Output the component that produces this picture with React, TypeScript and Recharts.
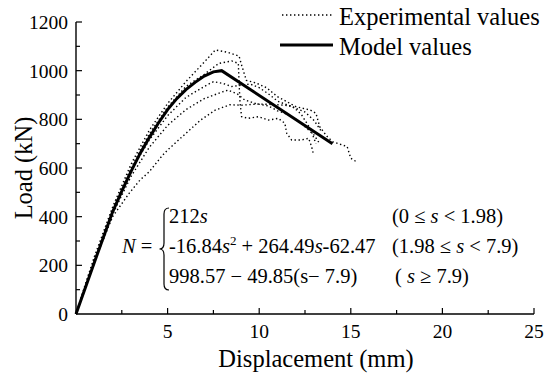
import React from "react";
import { LineChart, Line, XAxis, YAxis } from "recharts";

// model curve
const modelS = [0, 1, 2, 2.5, 3, 3.5, 4, 4.5, 5, 5.5, 6, 6.5, 7, 7.5, 7.95, 14];
const modelN = [0, 212, 420, 505, 585, 660, 725, 785, 840, 885, 922, 952, 978, 995, 1000, 700];

// experimental specimens (estimated from the dotted curves)
const expAS = [0, 0.5, 1, 2, 3, 4, 5, 6, 7, 7.6, 8.3, 8.9, 9.05, 9.3, 9.8, 10.4, 11, 11.5, 12, 12.8, 13.1, 13.3, 13.7, 14, 14.8, 15, 15.3];
const expAN = [0, 120, 235, 440, 615, 755, 865, 955, 1035, 1085, 1075, 1060, 1020, 960, 950, 930, 893, 873, 852, 838, 825, 770, 730, 708, 688, 640, 626];

const expBS = [0, 1, 2, 3, 4, 5, 6, 7, 7.8, 8.5, 8.86, 8.9, 8.95, 9.04, 9.4, 9.95, 10.5, 11.04, 11.4, 11.5, 11.77, 12.3, 12.7, 12.86, 12.95];
const expBN = [0, 225, 430, 600, 740, 850, 935, 985, 1030, 1040, 1030, 950, 870, 811, 804, 811, 797, 804, 784, 743, 715, 715, 722, 688, 660];

const expCS = [0, 1, 2, 3, 4, 5, 6, 7, 7.5, 8, 8.5, 9, 9.5, 10, 10.5, 11, 11.5, 12, 12.5, 13, 13.4];
const expCN = [0, 220, 425, 590, 715, 815, 890, 935, 955, 948, 935, 940, 945, 930, 905, 875, 860, 845, 830, 795, 750];

const expDS = [0, 1, 2, 3, 4, 5, 6, 7, 8, 8.3, 8.8, 9.2, 9.8, 10.5, 11, 11.5, 12, 12.5, 13, 13.3];
const expDN = [0, 218, 410, 565, 685, 775, 840, 885, 913, 920, 905, 880, 865, 855, 835, 822, 800, 770, 735, 700];

const expES = [0, 1, 2, 2.9, 3.5, 4, 4.7, 5, 6.2, 6.8, 7.6, 8.4, 9, 10, 11, 11.8, 12.3, 12.8, 13.1];
const expEN = [0, 215, 400, 496, 551, 585, 650, 674, 756, 797, 838, 860, 858, 863, 860, 855, 820, 760, 700];

const xTicks = [0, 2.5, 5, 7.5, 10, 12.5, 15, 17.5, 20, 22.5, 25];
const yTicks = [0, 100, 200, 300, 400, 500, 600, 700, 800, 900, 1000, 1100, 1200];

const toRows = (s: number[], n: number[]) => s.map((v, i) => ({ s: v, n: n[i] }));

const model = toRows(modelS, modelN);
const experiments = [
  toRows(expAS, expAN),
  toRows(expBS, expBN),
  toRows(expCS, expCN),
  toRows(expDS, expDN),
  toRows(expES, expEN),
];

const FONT = '"Liberation Serif", "DejaVu Serif", serif';
const DOTS = "1.4 2.6";
const txt = { fontFamily: FONT };

function XTick(props: any) {
  const { x, y, payload } = props;
  const v = payload.value;
  const major = v % 5 === 0;
  return (
    <g>
      {v > 0 && <line x1={x} x2={x} y1={y} y2={y - (major ? 6 : 4)} stroke="#000" strokeWidth={1.2} />}
      {major && v > 0 && (
        <text x={x} y={y + 24} textAnchor="middle" fontSize={19.5} style={txt} fill="#000">
          {v}
        </text>
      )}
    </g>
  );
}

function YTick(props: any) {
  const { x, y, payload } = props;
  const v = payload.value;
  const major = v % 200 === 0;
  return (
    <g>
      {v > 0 && <line x1={x} x2={x + (major ? 6 : 4)} y1={y} y2={y} stroke="#000" strokeWidth={1.2} />}
      {major && (
        <text x={x - 8} y={y + 7} textAnchor="end" fontSize={19.5} style={txt} fill="#000">
          {v}
        </text>
      )}
    </g>
  );
}

export default function App() {
  return (
    <div style={{ position: "absolute", left: 0, top: 0, width: 550, height: 376, background: "#fff", fontFamily: FONT }}>
      <LineChart width={550} height={376} margin={{ top: 22, right: 16, bottom: 0, left: 0 }}>
        <XAxis
          type="number"
          dataKey="s"
          domain={[0, 25]}
          ticks={xTicks}
          interval={0}
          height={62}
          tickSize={0}
          tickMargin={0}
          tickLine={false}
          tick={<XTick />}
          axisLine={{ stroke: "#000", strokeWidth: 1.4 }}
          allowDuplicatedCategory={false}
        />
        <YAxis
          type="number"
          dataKey="n"
          domain={[0, 1200]}
          ticks={yTicks}
          interval={0}
          width={76}
          tickSize={0}
          tickMargin={0}
          tickLine={false}
          tick={<YTick />}
          axisLine={{ stroke: "#000", strokeWidth: 1.4 }}
        />
        {experiments.map((d, i) => (
          <Line
            key={i}
            data={d}
            dataKey="n"
            type="linear"
            stroke="#000"
            strokeWidth={1.4}
            strokeDasharray={DOTS}
            dot={false}
            isAnimationActive={false}
          />
        ))}
        <Line
          data={model}
          dataKey="n"
          type="linear"
          stroke="#000"
          strokeWidth={3}
          dot={false}
          isAnimationActive={false}
        />
      </LineChart>

      <svg
        width={550}
        height={376}
        style={{ position: "absolute", left: 0, top: 0, pointerEvents: "none", fontFamily: FONT }}
      >
        {/* legend */}
        <line x1={282} x2={333} y1={15} y2={15} stroke="#000" strokeWidth={1.4} strokeDasharray={DOTS} />
        <text x={339} y={25} fontSize={24.5} style={txt} fill="#000">Experimental values</text>
        <line x1={280} x2={333} y1={45} y2={45} stroke="#000" strokeWidth={3} />
        <text x={339} y={55} fontSize={24.5} style={txt} fill="#000">Model values</text>

        {/* axis titles */}
        <text x={316} y={367} fontSize={24.5} textAnchor="middle" style={txt} fill="#000">Displacement (mm)</text>
        <text
          transform="translate(32,168) rotate(-90)"
          fontSize={24.5}
          textAnchor="middle"
          style={txt}
          fill="#000"
        >
          Load (kN)
        </text>

        {/* equation */}
        <text x={122} y={253} fontSize={20.5} style={txt} fill="#000">
          <tspan fontStyle="italic">N</tspan> =
        </text>
        <path
          d="M169 208 Q164 208 164 214 L164 243 Q164 249 159.5 249 Q164 249 164 255 L164 284 Q164 290 169 290"
          fill="none"
          stroke="#000"
          strokeWidth={1.2}
        />
        <text x={169} y={223} fontSize={20.5} style={txt} fill="#000">
          212<tspan fontStyle="italic">s</tspan>
        </text>
        <text x={169} y={253} fontSize={20.5} style={txt} fill="#000">
          -16.84<tspan fontStyle="italic">s</tspan>
          <tspan fontSize={13} dy={-8}>2</tspan>
          <tspan dy={8}> + 264.49</tspan>
          <tspan fontStyle="italic">s</tspan>-62.47
        </text>
        <text x={169} y={283} fontSize={20.5} style={txt} fill="#000">
          998.57 − 49.85(s− 7.9)
        </text>
        <text x={392} y={223} fontSize={20.5} style={txt} fill="#000">
          (0 ≤ <tspan fontStyle="italic">s</tspan> &lt; 1.98)
        </text>
        <text x={392} y={253} fontSize={20.5} style={txt} fill="#000">
          (1.98 ≤ <tspan fontStyle="italic">s</tspan> &lt; 7.9)
        </text>
        <text x={395} y={283} fontSize={20.5} style={txt} fill="#000">
          ( <tspan fontStyle="italic">s</tspan> ≥ 7.9)
        </text>
      </svg>
    </div>
  );
}
